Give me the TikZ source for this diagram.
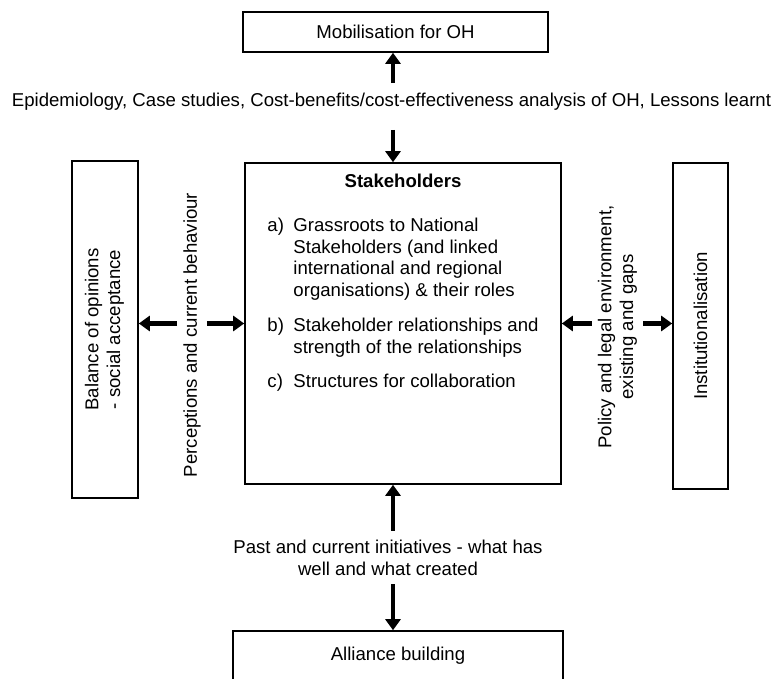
\documentclass[tikz,border=0pt]{standalone}
\usepackage{fontspec}
\setmainfont{Liberation Sans}
\usepackage{graphicx}
\usetikzlibrary{positioning,arrows.meta}

\begin{document}
\begin{tikzpicture}[x=1pt, y=-1pt, font=\fontsize{18.6pt}{21.7pt}\selectfont,
                    blockbox/.style={draw, line width=1.6pt, inner sep=0pt},
                    fatarrow/.style={line width=4.5pt, -{Triangle[length=11pt,width=15pt]}},
                    plaintext/.style={inner sep=6pt, align=center}]
\useasboundingbox (0,0) rectangle (777,679);

\coordinate (axis) at (393,0);

\node[blockbox, minimum width=305pt, minimum height=40pt] (mob) at (395.5,32) {Mobilisation for OH};
\node[plaintext, inner sep=10pt] (epi) at (391.5,102)
  {Epidemiology, Case studies, Cost-benefits/cost-effectiveness analysis of OH, Lessons learnt};

\node[blockbox, minimum width=316pt, minimum height=321pt] (stake) at (403,323.5) {};
\node[plaintext, inner sep=0pt, below=12pt of stake.north] (stakelist)
  {\textbf{Stakeholders}\\[22pt]
   \begin{tabular}[t]{@{}l@{\hspace{9.5pt}}l@{}}
   a) & Grassroots to National\\
      & Stakeholders (and linked\\
      & international and regional\\
      & organisations) \& their roles\\[13pt]
   b) & Stakeholder relationships and\\
      & strength of the relationships\\[13pt]
   c) & Structures for collaboration
   \end{tabular}};

\node[blockbox, minimum width=66pt, minimum height=337pt] (bal) at (105,329.5)
  {\rotatebox{90}{\begin{tabular}{@{}c@{}}Balance of opinions\\- social acceptance\end{tabular}}};
\node[plaintext, rotate=90] (percep) at (192,335) {Perceptions and current behaviour};

\node[plaintext, rotate=90] (policy) at (617.5,327) {Policy and legal environment,\\existing and gaps};
\node[blockbox, minimum width=55pt, minimum height=326pt] (inst) at (700.5,326)
  {\rotatebox{90}{Institutionalisation}};

\node[plaintext, inner sep=9pt] (past) at (388,557.5)
  {Past and current initiatives - what has\\well and what created};
\node[blockbox, minimum width=330pt, minimum height=49pt] (alli) at (398,655.5) {Alliance building};

% arrows
\draw[fatarrow] (epi.north -| axis) -- (mob.south -| axis);
\draw[fatarrow] ([yshift=-9pt]epi.south -| axis) -- (stake.north -| axis);
\draw[fatarrow] (percep.north |- stake.west) -- (bal.east |- stake.west);
\draw[fatarrow] (percep.south |- stake.west) -- (stake.west);
\draw[fatarrow] (policy.north |- stake.east) -- (stake.east);
\draw[fatarrow] (policy.south |- stake.east) -- (inst.west |- stake.east);
\draw[fatarrow] (past.north -| axis) -- (stake.south -| axis);
\draw[fatarrow] (past.south -| axis) -- (alli.north -| axis);
\end{tikzpicture}
\end{document}
